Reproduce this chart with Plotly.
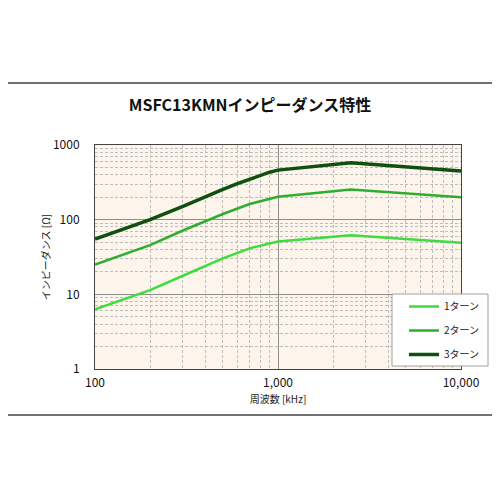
import plotly.graph_objects as go

freq_1 = [100, 200, 300, 400, 500, 700, 1000, 2500, 10000]
imp_1 = [6.3, 11.4, 17.6, 23.9, 30.3, 41.3, 51, 62, 49]
freq_2 = [100, 200, 300, 400, 500, 700, 1000, 2500, 10000]
imp_2 = [25, 45.7, 71, 96, 119, 162, 203, 254, 199]
freq_3 = [100, 200, 300, 400, 500, 600, 700, 800, 900, 1000, 2500, 10000]
imp_3 = [55, 100, 149, 203, 254, 304, 350, 395, 432, 461, 578, 447]

names = ["1ターン", "2ターン", "3ターン"]
colors = ["#3EDC3E", "#2EAE2E", "#0F4F0F"]
widths = [2.5, 2.5, 3.5]

x_tickvals = [100, 1000, 10000]
x_ticktext = ["100", "1,000", "10,000"]
y_tickvals = [1, 10, 100, 1000]
y_ticktext = ["1", "10", "100", "1000"]

FONT = "Noto Sans CJK JP"

fig = go.Figure()
for i, (xs, ys) in enumerate([(freq_1, imp_1), (freq_2, imp_2), (freq_3, imp_3)]):
    fig.add_trace(go.Scatter(
        x=xs, y=ys, mode="lines", name=names[i],
        line=dict(color=colors[i], width=widths[i]),
        legendgroup=names[i],
    ))

OFF = 8  # page body margin
W, H = 500, 500
# target plot area in visible page pixels: x 95..461, y 145..369
L, T = 95 - OFF, 145 - OFF
R, B = W - (461 - OFF), H - (369 - OFF)
pw, ph = W - L - R, H - T - B

def px(x):
    return (x - OFF - L) / pw

def py(y):
    return (H - B - (y - OFF)) / ph

fig.update_layout(
    width=W, height=H,
    margin=dict(l=L, r=R, t=T, b=B),
    paper_bgcolor="white",
    plot_bgcolor="#FDF4EC",
    font=dict(family=FONT, color="#222222"),
    title=dict(text="<b>MSFC13KMNインピーダンス特性</b>", x=px(250), xanchor="center",
               xref="paper",
               y=1 - (105 - OFF) / H, yanchor="middle",
               font=dict(size=16, family=FONT, color="#111111")),
    showlegend=True,
    legend=dict(x=px(404), y=py(292), xanchor="left", yanchor="top",
                borderwidth=0, bgcolor="rgba(0,0,0,0)",
                font=dict(size=10, family=FONT, color="#222222"),
                traceorder="grouped", tracegroupgap=5,
                itemwidth=30),
    xaxis=dict(type="log", range=[2, 4], tickvals=x_tickvals, ticktext=x_ticktext,
               showgrid=True, gridcolor="#8E8E8E", gridwidth=1,
               minor=dict(showgrid=True, gridcolor="#BDBDBD", griddash="3px,2px", gridwidth=1,
                          dtick="D1"),
               showline=True, linecolor="#444444", linewidth=1, mirror=True,
               ticks="", ticklabelstandoff=3,
               tickfont=dict(size=12, family=FONT, color="#111111"),
               title=dict(text="周波数 [kHz]", font=dict(size=10, family=FONT, color="#222222"),
                          standoff=6),
               zeroline=False),
    yaxis=dict(type="log", range=[0, 3], tickvals=y_tickvals, ticktext=y_ticktext,
               showgrid=True, gridcolor="#8E8E8E", gridwidth=1,
               minor=dict(showgrid=True, gridcolor="#BDBDBD", griddash="3px,2px", gridwidth=1,
                          dtick="D1"),
               showline=True, linecolor="#444444", linewidth=1, mirror=True,
               ticks="", ticklabelstandoff=12,
               tickfont=dict(size=12, family=FONT, color="#111111"),
               title=dict(text="インピーダンス [Ω]", font=dict(size=10, family=FONT, color="#222222"),
                          standoff=0),
               zeroline=False),
    shapes=[
        dict(type="rect", xref="paper", yref="paper",
             x0=px(0.5), x1=px(498.5), y0=py(415), y1=py(83),
             line=dict(color="#444444", width=1.5), fillcolor="rgba(0,0,0,0)",
             layer="below"),
        dict(type="rect", xref="paper", yref="paper",
             x0=px(392), x1=px(488), y0=py(366), y1=py(294),
             line=dict(color="#A0A0A0", width=1), fillcolor="white",
             layer="above"),
    ],
)

fig.write_html("out.html")
